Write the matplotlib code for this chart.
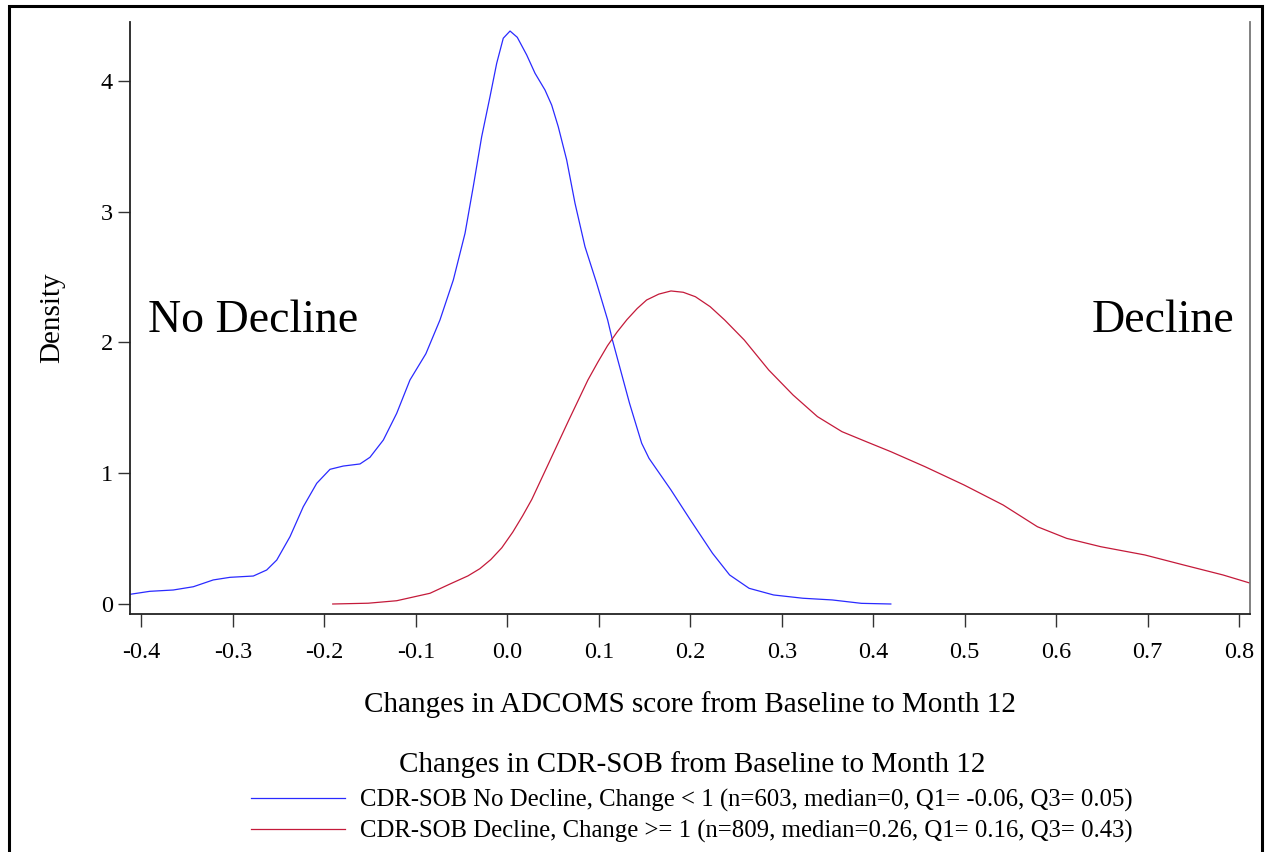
import matplotlib
matplotlib.use('Agg')
import matplotlib.pyplot as plt
from matplotlib.patches import Rectangle

# 读出的曲线数据 (估计值)
no_decline_x = [-0.4124, -0.3907, -0.3652, -0.3432, -0.3214, -0.3031, -0.2776, -0.2630, -0.2520,
                -0.2375, -0.2230, -0.2083, -0.1938, -0.1793, -0.1610, -0.1501, -0.1355, -0.1209,
                -0.1064, -0.0890, -0.0736, -0.0590, -0.0462, -0.0372, -0.0280, -0.0189, -0.0116,
                -0.0044, 0.0030, 0.0109, 0.0212, 0.0303, 0.0412, 0.0485, 0.0557, 0.0649,
                0.0740, 0.0849, 0.0977, 0.1097, 0.1149, 0.1336, 0.1469, 0.1549, 0.1789,
                0.2002, 0.2243, 0.2430, 0.2643, 0.2911, 0.3231, 0.3551, 0.3871, 0.4192]
no_decline_y = [0.074, 0.097, 0.107, 0.132, 0.184, 0.204, 0.214, 0.260, 0.336,
                0.515, 0.744, 0.923, 1.030, 1.055, 1.071, 1.122, 1.254, 1.458,
                1.713, 1.914, 2.172, 2.478, 2.835, 3.192, 3.574, 3.880, 4.135,
                4.327, 4.382, 4.334, 4.199, 4.059, 3.931, 3.816, 3.650, 3.396,
                3.065, 2.733, 2.453, 2.172, 2.019, 1.535, 1.229, 1.114, 0.872,
                0.642, 0.388, 0.222, 0.120, 0.069, 0.044, 0.031, 0.005, 0.0]

decline_x = [-0.1908, -0.1520, -0.1209, -0.0845, -0.0626, -0.0430, -0.0300, -0.0180, -0.0060,
             0.0060, 0.0168, 0.0268, 0.0455, 0.0668, 0.0881, 0.0990, 0.1095, 0.1200,
             0.1308, 0.1420, 0.1523, 0.1656, 0.1789, 0.1923, 0.2056, 0.2217, 0.2376,
             0.2590, 0.2857, 0.3124, 0.3390, 0.3658, 0.3925, 0.4192, 0.4566, 0.4993,
             0.5420, 0.5794, 0.6114, 0.6488, 0.6969, 0.7395, 0.7823, 0.8127]
decline_y = [0.0, 0.006, 0.025, 0.082, 0.153, 0.215, 0.270, 0.340, 0.430,
             0.550, 0.675, 0.800, 1.080, 1.400, 1.713, 1.850, 1.975, 2.080,
             2.175, 2.260, 2.325, 2.370, 2.394, 2.384, 2.350, 2.274, 2.172,
             2.019, 1.790, 1.598, 1.433, 1.318, 1.241, 1.165, 1.050, 0.910,
             0.757, 0.591, 0.502, 0.438, 0.375, 0.298, 0.222, 0.158]

x_ticks = [-0.4, -0.3, -0.2, -0.1, 0.0, 0.1, 0.2, 0.3, 0.4, 0.5, 0.6, 0.7, 0.8]
y_ticks = [0, 1, 2, 3, 4]

label_no = 'CDR-SOB No Decline, Change < 1 (n=603, median=0, Q1= -0.06, Q3= 0.05)'
label_yes = 'CDR-SOB Decline, Change >= 1 (n=809, median=0.26, Q1= 0.16, Q3= 0.43)'

plt.rcParams['font.family'] = ['Liberation Serif', 'DejaVu Serif']

W, H = 1265, 852
fig = plt.figure(figsize=(W / 100, H / 100), dpi=100)
ax = fig.add_axes([130 / W, 1 - 614 / H, (1250 - 130) / W, (614 - 22) / H])

ax.plot(no_decline_x, no_decline_y, color='#2a2aff', lw=0.9, label=label_no)
ax.plot(decline_x, decline_y, color='#c41a3a', lw=0.9, label=label_yes)

ax.set_xlim(-0.4124, 0.8118)
ax.set_ylim(-0.0765, 4.451)
ax.set_xticks(x_ticks)
ax.set_xticklabels(['%.1f' % v for v in x_ticks])
ax.set_yticks(y_ticks)
ax.tick_params(axis='x', direction='out', length=9.5, width=1, pad=11, labelsize=17.5, color='#333333')
ax.tick_params(axis='y', direction='out', length=9, width=1, pad=3.5, labelsize=17.5, color='#333333')

ax.spines['top'].set_visible(False)
for side in ['left', 'bottom']:
    ax.spines[side].set_linewidth(1.3)
    ax.spines[side].set_color('#222222')
ax.spines['right'].set_linewidth(1.3)
ax.spines['right'].set_color('#777777')

ax.set_xlabel('Changes in ADCOMS score from Baseline to Month 12', fontsize=21, labelpad=19.5)
ax.set_ylabel('Density', fontsize=21, labelpad=25)

ax.text(-0.3925, 2.08, 'No Decline', fontsize=33, ha='left', va='baseline')
ax.text(0.7945, 2.08, 'Decline', fontsize=33, ha='right', va='baseline')

leg = fig.legend(loc='upper center', bbox_to_anchor=(692 / W, 1 - 751 / H), frameon=False,
                 title='Changes in CDR-SOB from Baseline to Month 12', title_fontsize=21,
                 fontsize=17.8, handlelength=3.8, handletextpad=0.6, labelspacing=0.3,
                 borderpad=0, borderaxespad=0)
leg._legend_box.sep = 8

# 外框
fig.patches.append(Rectangle((9 / W, -0.05), (1262 - 9) / W, 1.05 - 6 / H, transform=fig.transFigure,
                             fill=False, lw=2.2, edgecolor='black'))

fig.savefig('out.png', dpi=100)
